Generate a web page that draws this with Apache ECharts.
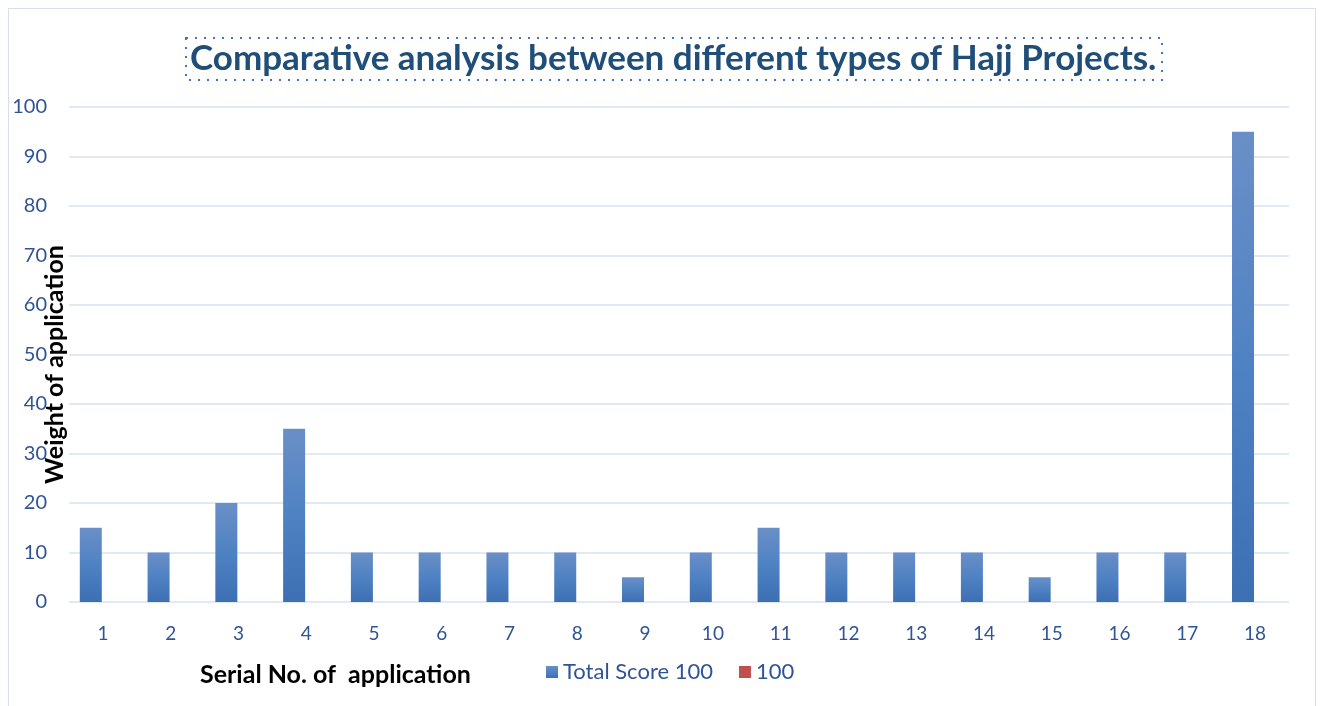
<!DOCTYPE html>
<html><head><meta charset="utf-8">
<script src="https://cdn.jsdelivr.net/npm/echarts@6/dist/echarts.min.js"></script>
<style>html,body{margin:0;padding:0;background:#fff;}#c{width:1320px;height:706px;}
#frame{position:absolute;left:8px;top:8px;width:1308px;height:720px;border:1.5px solid #D6DFEE;box-sizing:border-box;pointer-events:none;}</style>
</head><body><div id="c"></div><div id="frame"></div>
<script>
const categories = ['1','2','3','4','5','6','7','8','9','10','11','12','13','14','15','16','17','18'];
const totalScore = [15,10,20,35,10,10,10,10,5,10,15,10,10,10,5,10,10,95];
const series100 = [null,null,null,null,null,null,null,null,null,null,null,null,null,null,null,null,null,null];
const yTicks = [0,10,20,30,40,50,60,70,80,90,100];
const titleText = 'Comparative analysis between different types of Hajj Projects.';
const labelBlue = '#2F5496';
const chart = echarts.init(document.getElementById('c'));
chart.setOption({
  animation:false,
  textStyle:{fontFamily:'Lato'},
  title:{text:titleText,left:185,top:36,textStyle:{fontFamily:'Lato',fontWeight:'bold',fontSize:35,color:'#1F4E79'}},
  graphic:[
    {type:'rect',shape:{x:186,y:38,width:976,height:42},style:{fill:'none',stroke:'#4472C4',lineWidth:2,lineDash:[2,7]}},
    {type:'text',left:200,top:662,style:{text:'Serial No. of  application',fontFamily:'Lato',fontWeight:'bold',fontSize:25,fill:'#000'}}
  ],
  legend:{left:541,top:656,itemWidth:12,itemHeight:12,itemGap:26,icon:'rect',
    textStyle:{fontFamily:'Lato',fontSize:22,color:labelBlue},
    data:['Total Score 100','100']},
  grid:{left:69,right:31,top:107,bottom:104,containLabel:false,outerBoundsMode:'none'},
  xAxis:{type:'category',data:categories,axisLine:{show:false},axisTick:{show:false},
    axisLabel:{color:labelBlue,fontSize:19,margin:22,fontFamily:'Lato'}},
  yAxis:{type:'value',min:0,max:100,interval:10,
    name:'Weight of application',nameLocation:'middle',nameGap:2,nameRotate:90,nameMoveOverlap:false,
    nameTextStyle:{fontFamily:'Lato',fontWeight:'bold',fontSize:25,color:'#000',padding:[0,20,0,0]},
    axisLabel:{color:labelBlue,fontSize:20,margin:22,fontFamily:'Lato'},
    splitLine:{lineStyle:{color:'#D9E2F3',width:1.5}}},
  series:[
    {name:'Total Score 100',type:'bar',data:totalScore,barWidth:22,barGap:'10%',
      itemStyle:{color:new echarts.graphic.LinearGradient(0,0,0,1,[{offset:0,color:'#6A8FC7'},{offset:0.5,color:'#4F82C3'},{offset:1,color:'#3D6FB3'}])}},
    {name:'100',type:'bar',data:series100,barWidth:22,itemStyle:{color:'#C0504D'}}
  ]
});
</script></body></html>
